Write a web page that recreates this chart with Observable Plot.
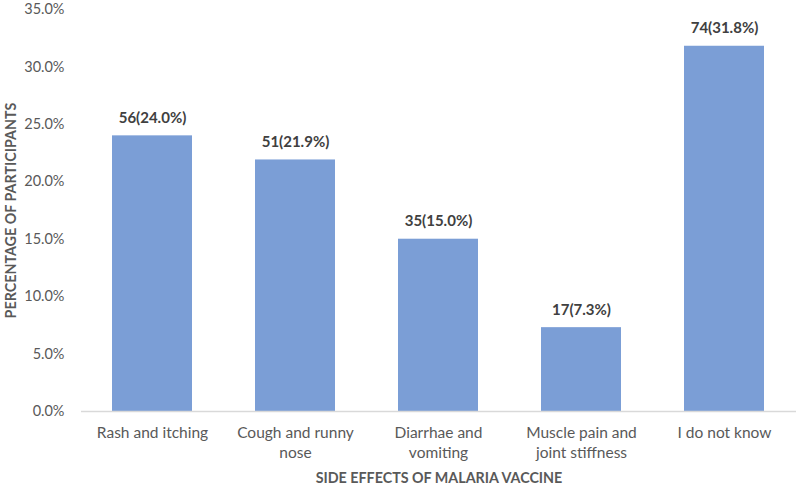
<!DOCTYPE html>
<html>
<head>
<meta charset="utf-8">
<script src="https://cdn.jsdelivr.net/npm/d3@7"></script>
<script src="https://cdn.jsdelivr.net/npm/@observablehq/plot@0.6"></script>
<style>
  html, body { margin: 0; padding: 0; background: #fff; }
  #chart svg { display: block; }
</style>
</head>
<body>
<div id="chart"></div>
<script>
// Reported side effects of the malaria vaccine
const categories = [
  "Rash and itching",
  "Cough and runny\nnose",
  "Diarrhae and\nvomiting",
  "Muscle pain and\njoint stiffness",
  "I do not know"
];
const counts = [56, 51, 35, 17, 74];
const percents = [24.0, 21.9, 15.0, 7.3, 31.8];
const yTicks = [0, 5, 10, 15, 20, 25, 30, 35];

const rows = categories.map((c, i) => ({
  category: c,
  value: percents[i] / 100,
  label: `${counts[i]}(${percents[i].toFixed(1)}%)`
}));

const font = "Lato, 'Open Sans', sans-serif";
const grey = "#595959";

const chart = Plot.plot({
  width: 798,
  height: 486,
  marginLeft: 81,
  marginRight: 2,
  marginTop: 9,
  marginBottom: 75,
  style: { fontFamily: font, color: grey, background: "#fff" },
  x: { domain: categories, paddingInner: 0.44, paddingOuter: 0.22, label: null },
  y: { domain: [0, 0.35], label: null },
  marks: [
    Plot.barY(rows, { x: "category", y: "value", fill: "#7b9ed6" }),
    Plot.ruleY([0], { stroke: "#d9d9d9", strokeWidth: 1.5 }),
    Plot.text(rows, {
      x: "category", y: "value", text: "label",
      dy: -13, lineAnchor: "bottom",
      fontWeight: "bold", fontSize: 15, fill: "#404040", fontFamily: font
    }),
    Plot.axisY(yTicks.map(d => d / 100), {
      tickSize: 0, tickPadding: 17, fontSize: 14.5, fill: grey,
      tickFormat: d => (d * 100).toFixed(1) + "%", label: null
    }),
    Plot.axisX({
      tickSize: 0, tickPadding: 12, fontSize: 15.5, fill: grey,
      lineHeight: 1.3, label: null
    }),
    Plot.text(["PERCENTAGE OF PARTICIPANTS"], {
      frameAnchor: "left", dx: -70, rotate: -90, textAnchor: "middle", text: d => d,
      fontWeight: "bold", fontSize: 14.3, fill: grey, fontFamily: font
    }),
    Plot.text(["SIDE EFFECTS OF MALARIA VACCINE"], {
      frameAnchor: "bottom", dy: 71, text: d => d,
      fontWeight: "bold", fontSize: 14.3, fill: grey, fontFamily: font
    })
  ]
});

document.getElementById("chart").appendChild(chart);
</script>
</body>
</html>
